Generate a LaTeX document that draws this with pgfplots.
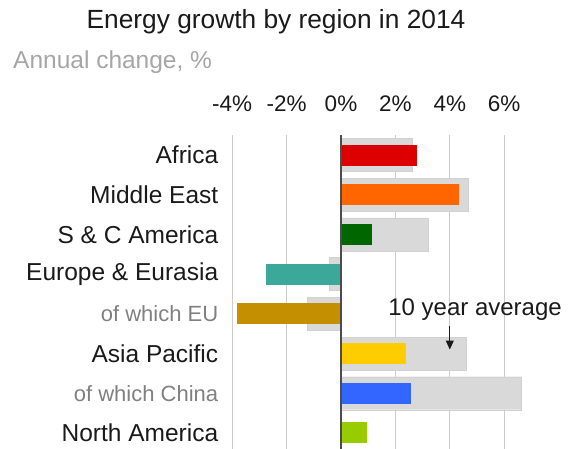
\documentclass[border=0pt]{standalone}
\usepackage{pgfplots}
\pgfplotsset{compat=1.18}
\usepackage{fontspec}
\setmainfont{Liberation Sans}
\usetikzlibrary{arrows.meta}
\definecolor{cAfrica}{HTML}{DD0000}
\definecolor{cME}{HTML}{FF6600}
\definecolor{cSCA}{HTML}{006600}
\definecolor{cEur}{HTML}{3CA89A}
\definecolor{cEU}{HTML}{C48F00}
\definecolor{cAP}{HTML}{FFCC00}
\definecolor{cChina}{HTML}{3366FF}
\definecolor{cNA}{HTML}{99CC00}
\definecolor{avggrey}{HTML}{D9D9D9}
\definecolor{txt}{HTML}{1A1A1A}
\definecolor{sub}{HTML}{A6A6A6}
\definecolor{lab2}{HTML}{808080}

\begin{document}
\begin{tikzpicture}
    \node[anchor=center, inner sep=0pt, text=txt] at (276pt,426pt)
        {\fontsize{26.3}{30}\selectfont Energy growth by region in 2014};
    \node[anchor=west, inner sep=0pt, text=sub] at (13pt,386pt)
        {\fontsize{24.5}{30}\selectfont Annual change, \%};
    \begin{axis}[
        at={(341pt,293pt)}, anchor=origin,
        x=27.2pt, y=39.7pt,
        y dir=reverse,
        xmin=-4.2, xmax=7.0,
        ymin=-0.5, ymax=7.4,
        clip mode=individual,
        axis line style={draw=none},
        major tick length=0pt,
        xtick={-4,-2,0,2,4,6},
        xticklabels={-4\%,-2\%,0\%,2\%,4\%,6\%},
        xticklabel pos=upper,
        xticklabel style={anchor=base, yshift=24pt, text=txt, font=\fontsize{22.5}{26}\selectfont},
        xmajorgrids=true,
        grid style={black!20, line width=0.8pt},
        ytick={0,...,7},
        yticklabels={Africa, Middle East, S \& C America, Europe \& Eurasia,
            {\color{lab2}\fontsize{22}{26}\selectfont of which EU}, Asia Pacific,
            {\color{lab2}\fontsize{22}{26}\selectfont of which China}, North America},
        yticklabel style={anchor=east, xshift=-5pt, text=txt, font=\fontsize{24.5}{30}\selectfont},
        /pgf/number format/assume math mode=true,
    ]
    % 10 year average
    \addplot[xbar, bar width=33pt, bar shift=0pt, fill=avggrey, draw=black!18]
        coordinates {(2.62,0) (4.68,1) (3.19,2) (-0.45,3) (-1.24,4) (4.62,5) (6.64,6) (0,7)};
    % 2014
    \addplot[xbar, bar width=21pt, bar shift=0pt, fill=cAfrica, draw=none] coordinates {(2.8,0)};
    \addplot[xbar, bar width=21pt, bar shift=0pt, fill=cME, draw=none] coordinates {(4.35,1)};
    \addplot[xbar, bar width=21pt, bar shift=0pt, fill=cSCA, draw=none] coordinates {(1.15,2)};
    \addplot[xbar, bar width=21pt, bar shift=0pt, fill=cEur, draw=none] coordinates {(-2.77,3)};
    \addplot[xbar, bar width=21pt, bar shift=0pt, fill=cEU, draw=none] coordinates {(-3.83,4)};
    \addplot[xbar, bar width=21pt, bar shift=0pt, fill=cAP, draw=none] coordinates {(2.38,5)};
    \addplot[xbar, bar width=21pt, bar shift=0pt, fill=cChina, draw=none] coordinates {(2.57,6)};
    \addplot[xbar, bar width=21pt, bar shift=0pt, fill=cNA, draw=none] coordinates {(0.97,7)};

    \draw[black!70, line width=1.2pt] (axis cs:0,-0.5) -- (axis cs:0,7.4);
    \node[text=txt, font=\fontsize{24}{28}\selectfont] at (axis cs:4.93,3.9) {10 year average};
    \draw[txt, line width=1pt, -{Triangle[width=8pt,length=9pt]}] (axis cs:4,4.3) -- (axis cs:4,4.9);
    \end{axis}
    \pgfresetboundingbox
    \useasboundingbox (0,0) rectangle (571pt,448pt);
\end{tikzpicture}
\end{document}
